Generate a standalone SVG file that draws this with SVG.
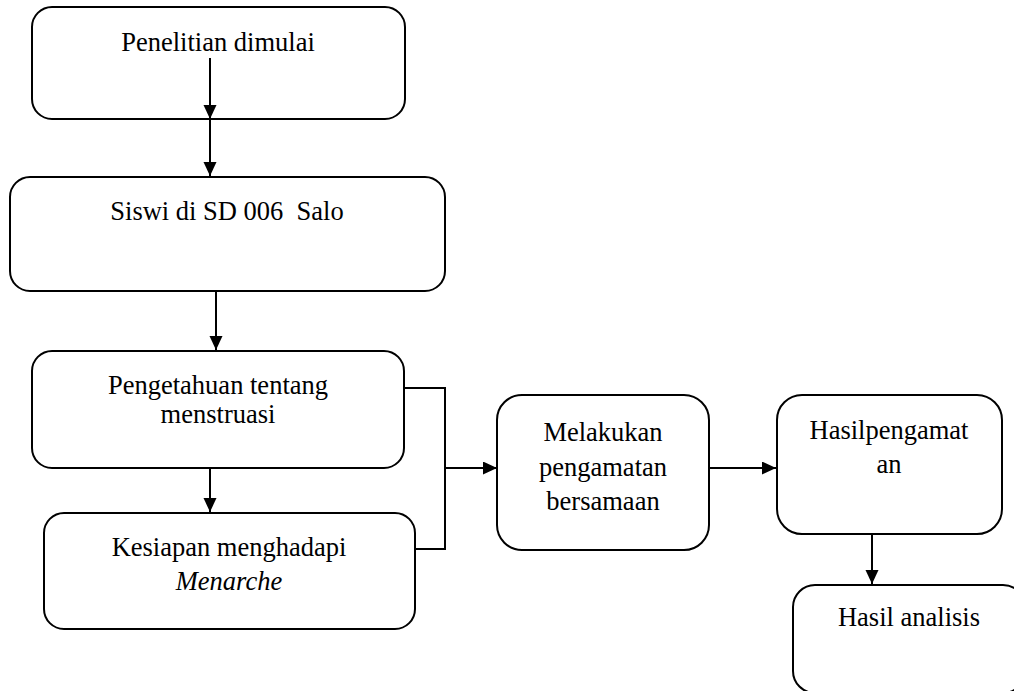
<svg xmlns="http://www.w3.org/2000/svg" width="1014" height="691" viewBox="0 0 1014 691">
<style>
.box{fill:#fff;stroke:#000;stroke-width:2}
.t{font-family:"Liberation Serif","Times New Roman",serif;font-size:26.5px;fill:#000;text-anchor:middle;white-space:pre}
.c{fill:none;stroke:#000;stroke-width:2}
</style>
<defs>
<marker id="ah" markerUnits="userSpaceOnUse" markerWidth="15" markerHeight="14" refX="14" refY="6.5" orient="auto">
<path d="M0,0 L14,6.5 L0,13 z" fill="#000"/>
</marker>
</defs>
<rect width="1014" height="691" fill="#fff"/>
<g id="n1"><rect class="box" x="32" y="7" width="373" height="112" rx="20"/><text class="t" x="218" y="51">Penelitian dimulai</text></g>
<g id="n2"><rect class="box" x="10" y="177" width="435" height="114" rx="20"/><text class="t" x="227" y="220" xml:space="preserve">Siswi di SD 006  Salo</text></g>
<g id="n3"><rect class="box" x="32" y="351" width="372" height="117" rx="20"/><text class="t" x="218" y="394">Pengetahuan tentang</text><text class="t" x="218" y="423">menstruasi</text></g>
<g id="n4"><rect class="box" x="44" y="513" width="371" height="116" rx="20"/><text class="t" x="229" y="556">Kesiapan menghadapi</text><text class="t" x="229" y="590" font-style="italic">Menarche</text></g>
<g id="n5"><rect class="box" x="497" y="395" width="212" height="155" rx="25"/><text class="t" x="603" y="441">Melakukan</text><text class="t" x="603" y="476">pengamatan</text><text class="t" x="603" y="510">bersamaan</text></g>
<g id="n6"><rect class="box" x="777" y="395" width="225" height="139" rx="25"/><text class="t" x="889" y="439">Hasilpengamat</text><text class="t" x="889" y="473">an</text></g>
<g id="n7"><rect class="box" x="793" y="585" width="232" height="108" rx="22"/><text class="t" x="909" y="626">Hasil analisis</text></g>
<g id="connectors">
<line class="c" x1="210" y1="58" x2="210" y2="119" marker-end="url(#ah)"/>
<line class="c" x1="210" y1="120" x2="210" y2="176" marker-end="url(#ah)"/>
<line class="c" x1="216" y1="291" x2="216" y2="350" marker-end="url(#ah)"/>
<line class="c" x1="210" y1="468" x2="210" y2="512" marker-end="url(#ah)"/>
<polyline class="c" points="404,388 445,388 445,549 415,549"/>
<line class="c" x1="445" y1="468" x2="497" y2="468" marker-end="url(#ah)"/>
<line class="c" x1="709" y1="468" x2="776" y2="468" marker-end="url(#ah)"/>
<line class="c" x1="872" y1="534" x2="872" y2="584" marker-end="url(#ah)"/>
</g>
</svg>
